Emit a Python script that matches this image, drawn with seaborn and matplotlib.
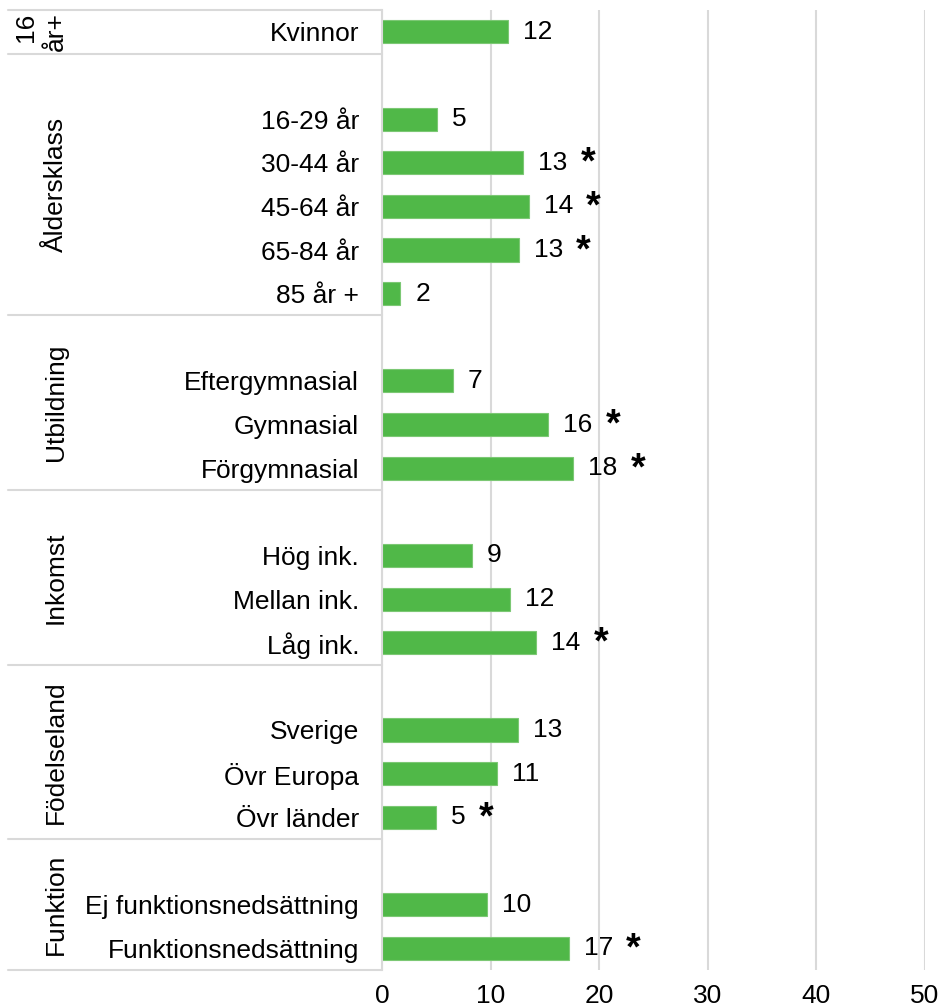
import pandas as pd
import seaborn as sns
import matplotlib.pyplot as plt

# group headers (drawn rotated on the left)
groups = ["16\når+", "Åldersklass", "Utbildning", "Inkomst", "Födelseland", "Funktion"]

# categories per group
categories = [
    ["Kvinnor"],
    ["16-29 år", "30-44 år", "45-64 år", "65-84 år", "85 år +"],
    ["Eftergymnasial", "Gymnasial", "Förgymnasial"],
    ["Hög ink.", "Mellan ink.", "Låg ink."],
    ["Sverige", "Övr Europa", "Övr länder"],
    ["Ej funktionsnedsättning", "Funktionsnedsättning"],
]

# bar lengths (percent)
values = [
    [11.6],
    [5.1, 13.0, 13.5, 12.6, 1.7],
    [6.5, 15.3, 17.6],
    [8.3, 11.8, 14.2],
    [12.5, 10.6, 5.0],
    [9.7, 17.2],
]

# printed labels
labels = [
    ["12"],
    ["5", "13", "14", "13", "2"],
    ["7", "16", "18"],
    ["9", "12", "14"],
    ["13", "11", "5"],
    ["10", "17"],
]

# significance stars
stars = [
    [False],
    [False, True, True, True, False],
    [False, True, True],
    [False, False, True],
    [False, False, True],
    [False, True],
]

GREEN = "#50B848"
GRID = "#D9D9D9"
FS = 19

# build long table; an empty slot precedes every group except the first
rows = []
bounds = []
pos = 0
for gi, grp in enumerate(groups):
    if gi > 0:
        pos += 1
    start = pos - 0.5 if gi == 0 else pos - 1.5
    for cat, val, lab, st in zip(categories[gi], values[gi], labels[gi], stars[gi]):
        rows.append({"group": grp, "category": cat, "value": val,
                     "label": lab, "star": st, "pos": pos})
        pos += 1
    bounds.append((grp, start, pos - 0.5))
df = pd.DataFrame(rows)
n_slots = pos

sns.set_style("white")
plt.rcParams["font.family"] = ["Liberation Sans", "DejaVu Sans"]
plt.rcParams["text.color"] = "black"
plt.rcParams["xtick.color"] = "black"
plt.rcParams["ytick.color"] = "black"

fig = plt.figure(figsize=(9.42, 10.08), dpi=100)
ax = fig.add_axes([382 / 942, 1 - 970 / 1008, (925 - 382) / 942, (970 - 10) / 1008])

sns.barplot(data=df, x="value", y="pos", orient="y", native_scale=True,
            color=GREEN, saturation=1, width=0.53, edgecolor="#7CC874",
            linewidth=0.8, ax=ax, zorder=3)

ax.set_xlim(0, 50)
ax.set_ylim(n_slots - 0.5, -0.5)
ax.set_xticks([0, 10, 20, 30, 40, 50])
ax.set_yticks(df["pos"])
ax.set_yticklabels(df["category"])
ax.tick_params(axis="y", length=0, pad=16.5, labelsize=FS, labelcolor="black")
ax.tick_params(axis="x", length=0, pad=10, labelsize=FS, labelcolor="black")
ax.set_xlabel("")
ax.set_ylabel("")
ax.grid(axis="x", color=GRID, linewidth=1.5, zorder=0)
ax.grid(axis="y", visible=False)
for side in ["top", "right", "bottom"]:
    ax.spines[side].set_visible(False)
ax.spines["left"].set_color(GRID)
ax.spines["left"].set_linewidth(1.5)
ax.spines["left"].set_zorder(4)

# value labels and stars
for _, r in df.iterrows():
    txt = ax.annotate(r["label"], xy=(r["value"], r["pos"]), xytext=(15, 0),
                      textcoords="offset pixels", va="center", ha="left",
                      fontsize=FS, color="black")
    if r["star"]:
        ax.annotate("*", xy=(1, 0.5), xycoords=txt, xytext=(13, -1),
                    textcoords="offset pixels", va="center", ha="left",
                    fontsize=27, fontweight="bold", color="black")

# group separators and rotated group titles
ytr = ax.get_yaxis_transform()
x_left = (8 - 382) / 543
for grp, start, end in bounds:
    ax.plot([x_left, 0], [start, start], color=GRID, linewidth=1.5,
            transform=ytr, clip_on=False)
    ax.text((68 - 382) / 543, (start + end) / 2, grp, transform=ytr,
            rotation=90, ha="right", va="center", fontsize=FS,
            linespacing=1.3, color="black")
ax.plot([x_left, 0], [n_slots - 0.5, n_slots - 0.5], color=GRID,
        linewidth=1.5, transform=ytr, clip_on=False)

plt.savefig("out.png", dpi=100)
